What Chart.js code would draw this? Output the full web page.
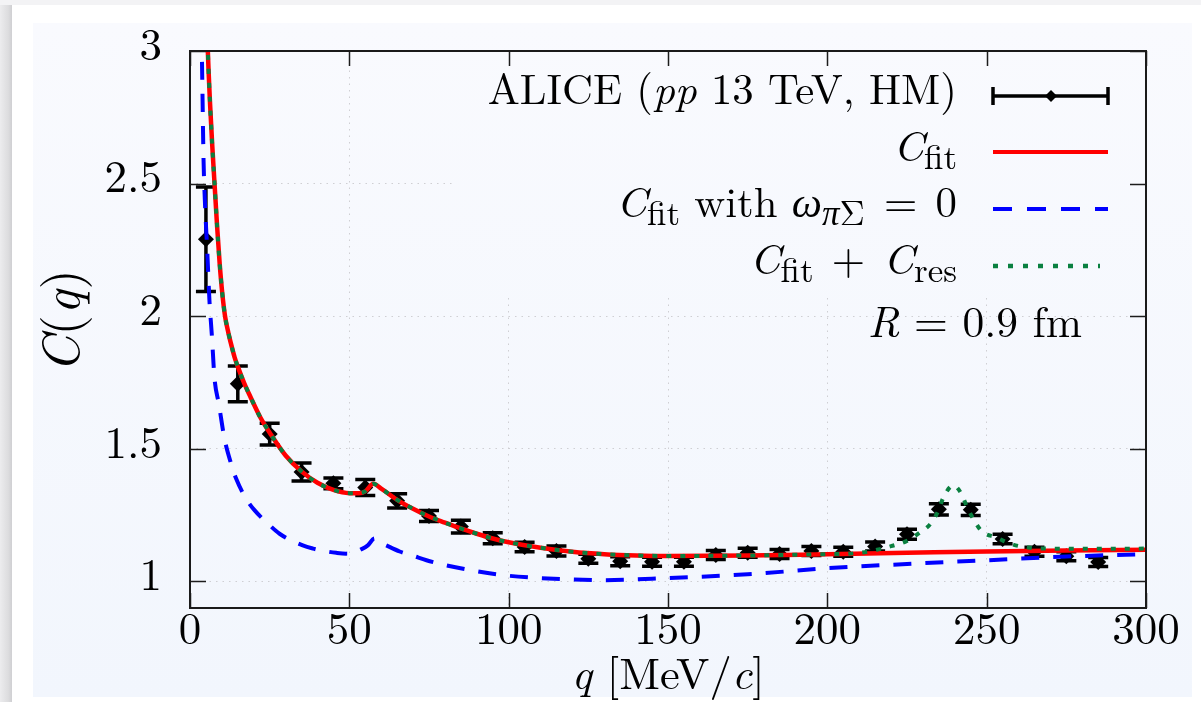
<!DOCTYPE html>
<html><head><meta charset="utf-8">
<script src="https://cdn.jsdelivr.net/npm/chart.js@4.4.1/dist/chart.umd.min.js"></script>
<style>html,body{margin:0;padding:0;background:#f3f3f5;overflow:hidden}canvas{display:block}</style>
</head><body>
<canvas id="c" width="1201" height="702"></canvas>
<script>
// ---- data ----
const qData = [5,15,25,35,45,55,65,75,85,95,105,115,125,135,145,155,165,175,185,195,205,215,225,235,245,255,265,275,285];
const cData = [2.29,1.745,1.556,1.413,1.37,1.354,1.304,1.247,1.207,1.163,1.13,1.115,1.086,1.076,1.074,1.074,1.100,1.108,1.104,1.115,1.112,1.132,1.178,1.272,1.270,1.160,1.112,1.095,1.073];
const cErr  = [0.197,0.067,0.041,0.034,0.02,0.03,0.027,0.021,0.024,0.021,0.018,0.019,0.017,0.017,0.017,0.017,0.017,0.017,0.017,0.017,0.017,0.017,0.019,0.021,0.021,0.018,0.017,0.017,0.017];

const fitQ = [5,5.6,6.3,7,7.6,8.5,9.3,10.1,11,12,13,14,15,17,19.2,22,25.5,30,35,40,45,50,53,55,57.5,60,65,70,75,80,85,90,95,100,110,120,130,140,150,175,200,225,250,275,300];
const fitC = [3.25,3.0,2.8,2.64,2.52,2.34,2.2,2.09,2.0,1.94,1.89,1.845,1.81,1.748,1.69,1.62,1.552,1.475,1.415,1.372,1.345,1.333,1.333,1.34,1.368,1.35,1.308,1.274,1.245,1.222,1.2,1.18,1.162,1.148,1.127,1.112,1.103,1.098,1.096,1.098,1.103,1.108,1.113,1.117,1.12];

const zeroQ = [3.3,3.7,4.25,4.65,5.4,6.1,6.85,7.7,9.05,10.8,12.9,14.5,17.6,20.3,25,28.1,35.4,38.6,42,45.9,49,51.5,53.2,55.8,57.9,59.5,61.6,65.8,70,74.2,80,85.7,96.1,106.6,117,130,150,175,200,225,250,275,300];
const zeroC = [3.2,3.0,2.59,2.44,2.25,2.06,1.93,1.765,1.67,1.54,1.444,1.387,1.312,1.268,1.212,1.18,1.136,1.124,1.115,1.108,1.105,1.108,1.118,1.136,1.162,1.148,1.136,1.113,1.097,1.08,1.062,1.048,1.027,1.015,1.009,1.005,1.013,1.027,1.05,1.066,1.08,1.094,1.103];

const resQ = [5,5.6,6.3,7,7.6,8.5,9.3,10.1,11,12,13,14,15,17,19.2,22,25.5,30,35,40,45,50,53,55,57.5,60,65,70,75,80,85,90,95,100,110,120,130,140,150,175,200,205,210,215,220,225,229,232.7,234.8,236.4,239.5,242,243.7,245.3,248.4,253,258,263,270,280,290,300];
const resC = [3.25,3.0,2.8,2.64,2.52,2.34,2.2,2.09,2.0,1.94,1.89,1.845,1.81,1.748,1.69,1.62,1.552,1.475,1.415,1.372,1.345,1.333,1.333,1.34,1.368,1.35,1.308,1.274,1.245,1.222,1.2,1.18,1.162,1.148,1.127,1.112,1.103,1.098,1.096,1.098,1.103,1.104,1.108,1.118,1.133,1.153,1.184,1.222,1.266,1.316,1.362,1.332,1.285,1.247,1.19,1.166,1.14,1.128,1.124,1.123,1.123,1.124];

const xTickValues = [0,50,100,150,200,250,300];
const yTickValues = [1,1.5,2,2.5,3];
const yTickLabels = ['1','1.5','2','2.5','3'];

// text pieces: i = italic, s = subscript, g = extra gap (px) after the piece
const legendRows = [
  [{t:'ALICE ('},{t:'pp',i:1},{t:' 13 TeV, HM)'}],
  [{t:'C',i:1},{t:'fit',s:1}],
  [{t:'C',i:1},{t:'fit',s:1},{t:' with '},{t:'ω',i:1},{t:'π',i:1,s:1},{t:'Σ',s:1,g:5},{t:' = ',g:4},{t:'0'}],
  [{t:'C',i:1},{t:'fit',s:1,g:4},{t:' + ',g:4},{t:'C',i:1},{t:'res',s:1}]
];
const radiusLabel = [{t:'R',i:1},{t:' = 0.9 fm'}];
const xTitle = [{t:'q',i:1},{t:' [MeV/'},{t:'c',i:1},{t:']'}];
const yTitle = [{t:'C',i:1},{t:'(',g:1},{t:'q',i:1,g:1},{t:')'}];

// ---- styling helpers ----
const SERIF = "'Latin Modern Roman', 'Liberation Serif', serif";
const MAIN = 42.8, SUB = 35, SUBDY = 8;
function segFont(s, size){ const z = s.s ? SUB : size; return (s.i?'italic ':'') + z + 'px ' + SERIF; }
function richWidth(ctx, segs, size){ let w=0; for(const s of segs){ ctx.font=segFont(s,size); w+=ctx.measureText(s.t).width+(s.g||0); } return w; }
function drawRich(ctx, segs, x, y, align, size){
  size = size || MAIN;
  const w = richWidth(ctx, segs, size);
  let cx = align==='right' ? x-w : align==='center' ? x-w/2 : x;
  ctx.textAlign='left'; ctx.textBaseline='alphabetic'; ctx.fillStyle='#000';
  for(const s of segs){ ctx.font=segFont(s,size); ctx.fillText(s.t, cx, y+(s.s?SUBDY:0)); cx+=ctx.measureText(s.t).width+(s.g||0); }
}
function panelGradient(ctx){
  const pg = ctx.createLinearGradient(0,23,0,697);
  pg.addColorStop(0,'#f9fafe'); pg.addColorStop(1,'#f2f6fd');
  return pg;
}

const bgPlugin = {
  id:'bg',
  beforeDraw(chart){
    const ctx = chart.ctx; ctx.save();
    ctx.fillStyle='#f3f3f5'; ctx.fillRect(0,0,1201,702);
    const g = ctx.createLinearGradient(0,0,12,0);
    g.addColorStop(0,'#ececee'); g.addColorStop(0.7,'#dcdcde'); g.addColorStop(1,'#cfcfd2');
    ctx.fillStyle=g; ctx.fillRect(0,5,12,697);
    ctx.fillStyle='#ffffff'; ctx.fillRect(12,5,1189,697);
    ctx.fillStyle=panelGradient(ctx); ctx.fillRect(33,23,1159,674);
    ctx.restore();
  },
  beforeDatasetsDraw(chart){
    const ctx = chart.ctx, a = chart.chartArea, xs = chart.scales.x, ys = chart.scales.y;
    ctx.save();
    ctx.fillStyle=panelGradient(ctx); ctx.fillRect(452, a.top, a.right-452, 293-a.top);
    ctx.strokeStyle='#000'; ctx.lineWidth=3.5; ctx.lineCap='butt';
    for(let k=0;k<qData.length;k++){
      const px = xs.getPixelForValue(qData[k]);
      const y1 = ys.getPixelForValue(cData[k]+cErr[k]);
      const y2 = ys.getPixelForValue(cData[k]-cErr[k]);
      ctx.beginPath();
      ctx.moveTo(px,y1); ctx.lineTo(px,y2);
      ctx.moveTo(px-10,y1); ctx.lineTo(px+10,y1);
      ctx.moveTo(px-10,y2); ctx.lineTo(px+10,y2);
      ctx.stroke();
    }
    ctx.restore();
  },
  afterDatasetsDraw(chart){
    const ctx = chart.ctx, a = chart.chartArea, xs = chart.scales.x, ys = chart.scales.y;
    ctx.save();
    ctx.strokeStyle='#1c1c1c'; ctx.lineWidth=1.5;
    ctx.beginPath();
    for(const v of yTickValues){
      const py = Math.round(ys.getPixelForValue(v))+0.5;
      ctx.moveTo(a.left,py); ctx.lineTo(a.left+16,py);
      ctx.moveTo(a.right,py); ctx.lineTo(a.right-16,py);
    }
    for(const v of xTickValues){
      const px = Math.round(xs.getPixelForValue(v))+0.5;
      ctx.moveTo(px,a.bottom); ctx.lineTo(px,a.bottom-15);
      ctx.moveTo(px,a.top); ctx.lineTo(px,a.top+15);
    }
    ctx.stroke();
    ctx.lineWidth=2; ctx.strokeStyle='#1a1a1a';
    ctx.strokeRect(a.left, a.top, a.right-a.left, a.bottom-a.top);
    ctx.restore();
  },
  afterDraw(chart){
    const ctx = chart.ctx, a = chart.chartArea;
    ctx.save();
    const TX = 957, X0 = 993, X1 = 1108;
    const rowsY = [104, 161, 217, 274];
    const lineY = [96, 152, 209, 266];
    legendRows.forEach((r,i)=>drawRich(ctx, r, TX, rowsY[i], 'right'));
    ctx.strokeStyle='#000'; ctx.lineWidth=3.5;
    ctx.beginPath();
    ctx.moveTo(X0,lineY[0]); ctx.lineTo(X1,lineY[0]);
    ctx.moveTo(X0,lineY[0]-9); ctx.lineTo(X0,lineY[0]+9);
    ctx.moveTo(X1,lineY[0]-9); ctx.lineTo(X1,lineY[0]+9);
    ctx.stroke();
    ctx.fillStyle='#000'; ctx.beginPath();
    ctx.moveTo(1051,lineY[0]-6); ctx.lineTo(1057,lineY[0]); ctx.lineTo(1051,lineY[0]+6); ctx.lineTo(1045,lineY[0]); ctx.closePath(); ctx.fill();
    ctx.lineWidth=4; ctx.strokeStyle='#ff0000';
    ctx.beginPath(); ctx.moveTo(X0,lineY[1]); ctx.lineTo(X1,lineY[1]); ctx.stroke();
    ctx.strokeStyle='#0000ff'; ctx.setLineDash([19,15]);
    ctx.beginPath(); ctx.moveTo(X0,lineY[2]); ctx.lineTo(X1,lineY[2]); ctx.stroke();
    ctx.strokeStyle='#0a8040'; ctx.lineWidth=4.5; ctx.setLineDash([5,10]);
    ctx.beginPath(); ctx.moveTo(X0,lineY[3]); ctx.lineTo(1100,lineY[3]); ctx.stroke();
    ctx.setLineDash([]);
    drawRich(ctx, radiusLabel, 1082, 337, 'right', 43.5);
    drawRich(ctx, xTitle, (a.left+a.right)/2, 689, 'center', 44.5);
    ctx.translate(79, 321); ctx.rotate(-Math.PI/2);
    drawRich(ctx, yTitle, 0, 0, 'center', 52);
    ctx.restore();
  }
};

const toXY = (qs, cs) => qs.map((q,k)=>({x:q, y:cs[k]}));

new Chart(document.getElementById('c'), {
  type:'line',
  data:{
    datasets:[
      {label:'ALICE (pp 13 TeV, HM)', data:toXY(qData,cData), showLine:false, pointStyle:'rectRot', pointRadius:8, pointBackgroundColor:'#000', pointBorderColor:'#000', pointBorderWidth:0, order:4},
      {label:'C_fit with ω=0', data:toXY(zeroQ,zeroC), borderColor:'#0000ff', borderWidth:4, borderDash:[18,14], pointRadius:0, cubicInterpolationMode:'monotone', fill:false, order:3},
      {label:'C_fit', data:toXY(fitQ,fitC), borderColor:'#ff0000', borderWidth:4.5, pointRadius:0, cubicInterpolationMode:'monotone', fill:false, order:2},
      {label:'C_fit + C_res', data:toXY(resQ,resC), borderColor:'#0a8040', borderWidth:4, borderDash:[5,9], pointRadius:0, cubicInterpolationMode:'monotone', fill:false, order:1}
    ]
  },
  options:{
    responsive:false, animation:false, devicePixelRatio:1,
    layout:{padding:{left:0, top:51, right:55, bottom:0}},
    plugins:{legend:{display:false}, tooltip:{enabled:false}},
    scales:{
      x:{type:'linear', min:0, max:300,
        afterBuildTicks(s){ s.ticks = xTickValues.map(v=>({value:v})); },
        afterFit(s){ s.height = 94; s.paddingLeft=0; s.paddingRight=0; },
        grid:{color:'#cfcfd3', lineWidth:1, drawTicks:false},
        border:{display:false, dash:[1.5,5]},
        ticks:{color:'#000', font:{family:SERIF, size:45}, padding:-5, maxRotation:0, autoSkip:false}
      },
      y:{type:'linear', min:0.9, max:3,
        afterBuildTicks(s){ s.ticks = yTickValues.map(v=>({value:v})); },
        afterFit(s){ s.width = 190; s.paddingTop=0; s.paddingBottom=0; },
        grid:{color:'#cfcfd3', lineWidth:1, drawTicks:false},
        border:{display:false, dash:[1.5,5]},
        ticks:{color:'#000', font:{family:SERIF, size:45}, padding:28, labelOffset:-5, autoSkip:false,
          callback:(v)=>{ const k = yTickValues.indexOf(v); return k>=0 ? yTickLabels[k] : ''; }}
      }
    }
  },
  plugins:[bgPlugin]
});
</script>
</body></html>
